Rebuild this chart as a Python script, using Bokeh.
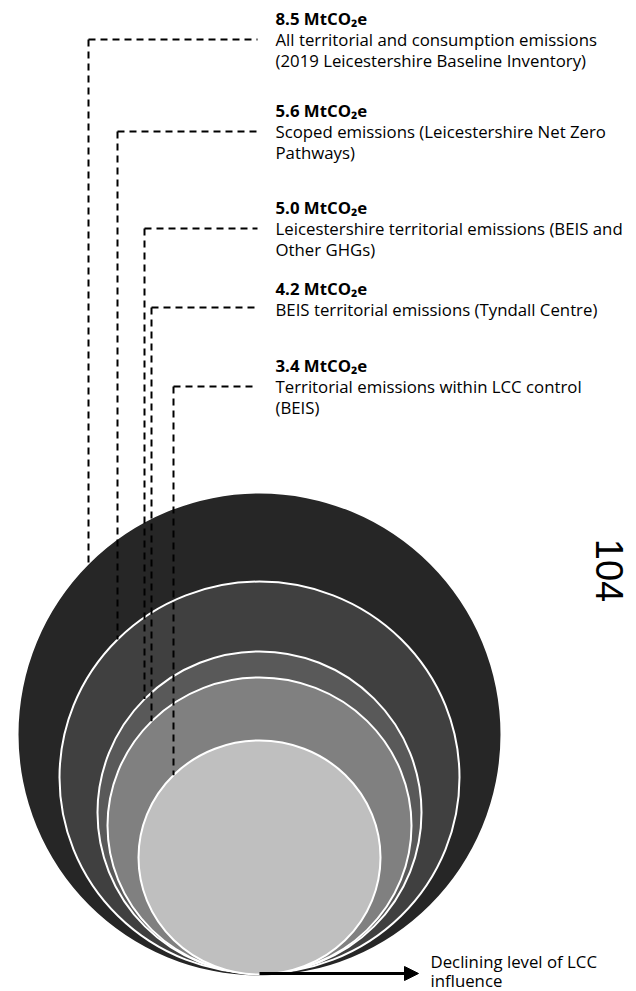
import math
from bokeh.plotting import figure
from bokeh.models import Range1d, Arrow, NormalHead
from bokeh.core.properties import value
from bokeh.embed import file_html
from bokeh.resources import INLINE

# ---------------- data ----------------
values = [8.5, 5.6, 5.0, 4.2, 3.4]
unit = "MtCO\u2082e"
descriptions = [
    ["All territorial and consumption emissions", "(2019 Leicestershire Baseline Inventory)"],
    ["Scoped emissions (Leicestershire Net Zero", "Pathways)"],
    ["Leicestershire territorial emissions (BEIS and", "Other GHGs)"],
    ["BEIS territorial emissions (Tyndall Centre)"],
    ["Territorial emissions within LCC control", "(BEIS)"],
]
arrow_label = ["Declining level of LCC", "influence"]
page_number = "104"

# ---------------- layout / style ----------------
W, H = 636, 991
cx = 259
circle_w = [482, 400, 324, 304, 242]
circle_h = [482, 392, 322, 296, 234]
circle_bottom = [975, 973, 973, 973, 974]
fills = ["#262626", "#404040", "#595959", "#808080", "#bfbfbf"]
leader_x = [88, 117, 144, 151, 173]
leader_end_x = 257
label_x = 275
label_top = [18, 110, 207, 288, 365]
line_gap = 20.5
FONT = "Open Sans"
FS = "16.8px"


def Y(py):
    return H - py


p = figure(width=W, height=H, output_backend="svg", toolbar_location=None,
           x_range=Range1d(0, W), y_range=Range1d(0, H), min_border=0)
p.axis.visible = False
p.grid.visible = False
p.outline_line_color = None
p.background_fill_color = "white"

# circles
cys = [b - h / 2 for b, h in zip(circle_bottom, circle_h)]
for i in range(len(values)):
    p.ellipse(x=cx, y=Y(cys[i]), width=circle_w[i], height=circle_h[i],
              fill_color=fills[i], line_color=None if i == 0 else "white",
              line_width=2)

# leaders and labels
for i, v in enumerate(values):
    lx = leader_x[i]
    a = circle_w[i] / 2
    b = circle_h[i] / 2
    y_end = cys[i] - b * math.sqrt(max(0.0, 1 - ((lx - cx) / a) ** 2))
    desc_y = [label_top[i] + 21 + k * line_gap for k in range(len(descriptions[i]))]
    ly = desc_y[0] - (2 if len(descriptions[i]) == 1 else 0)
    p.line([lx, leader_end_x], [Y(ly), Y(ly)], line_color="black", line_width=2,
           line_dash="7 5")
    p.line([lx, lx], [Y(ly), Y(y_end)], line_color="black", line_width=2,
           line_dash="7 5")
    p.text(x=[label_x], y=[Y(label_top[i])], text=[f"{v:.1f} {unit}"],
           text_font=value(FONT), text_font_size=FS, text_font_style="bold",
           text_baseline="middle", text_align="left", text_color="black")
    p.text(x=[label_x] * len(desc_y), y=[Y(d) for d in desc_y], text=descriptions[i],
           text_font=value(FONT), text_font_size=FS,
           text_baseline="middle", text_align="left", text_color="black")

# arrow
p.add_layout(Arrow(end=NormalHead(size=14, fill_color="black", line_color="black"),
                   x_start=cx, y_start=Y(973), x_end=418, y_end=Y(973),
                   line_color="black", line_width=3))
p.text(x=[430, 430], y=[Y(961), Y(980)], text=arrow_label,
       text_font=value(FONT), text_font_size=FS,
       text_baseline="middle", text_align="left", text_color="black")

# page number
p.text(x=[609], y=[Y(570)], text=[page_number], angle=-math.pi / 2,
       text_font=value("Liberation Sans"), text_font_size="38px",
       text_baseline="middle", text_align="center", text_color="black")

open("out.html", "w").write(file_html(p, INLINE))
